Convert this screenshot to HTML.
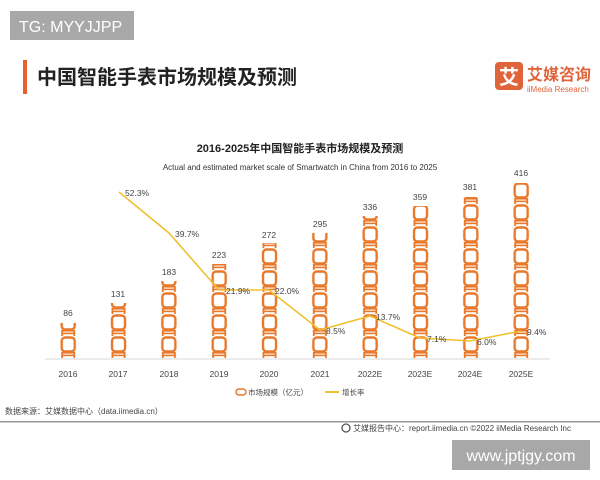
<!DOCTYPE html>
<html><head><meta charset="utf-8"><style>
body{margin:0;background:#fff;}
svg{display:block;font-family:"Liberation Sans","Noto Sans CJK SC",sans-serif;}
</style></head><body>
<svg width="600" height="480" viewBox="0 0 600 480">
<defs>
<pattern id="ch" patternUnits="userSpaceOnUse" x="58.2" y="358" width="50.33" height="22">
<rect x="3.5" y="1.5" width="13" height="14" rx="3.5" fill="none" stroke="#e8782a" stroke-width="2.4"/>
<rect x="4" y="16" width="12" height="1.6" fill="#e8782a"/>
<rect x="4" y="18.6" width="12" height="1.6" fill="#e8782a"/>
<rect x="3" y="16" width="1.8" height="6" fill="#e8782a"/>
<rect x="15.2" y="16" width="1.8" height="6" fill="#e8782a"/>
</pattern>
</defs>
<rect x="10" y="11" width="124" height="29" fill="#a8a8a8"/>
<text x="19" y="32" font-size="16" fill="#fff">TG: MYYJJPP</text>
<rect x="23" y="60" width="4" height="34" fill="#e8602c"/>
<text x="37" y="84" font-size="20" fill="#222" font-weight="bold">中国智能手表市场规模及预测</text>
<rect x="495" y="62" width="28" height="28" rx="4" fill="#e0643a"/>
<text x="509" y="84" font-size="20" fill="#fff" text-anchor="middle" font-weight="bold">艾</text>
<text x="527" y="80" font-size="16" fill="#e0643a" font-weight="bold">艾媒咨询</text>
<text x="527" y="92" font-size="8" fill="#e0643a">iiMedia Research</text>
<text x="300" y="152" font-size="11" fill="#222" text-anchor="middle" font-weight="bold">2016-2025年中国智能手表市场规模及预测</text>
<text x="300" y="170" font-size="8" fill="#333" text-anchor="middle">Actual and estimated market scale of Smartwatch in China from 2016 to 2025</text>
<line x1="45" y1="359" x2="550" y2="359" stroke="#d8d8d8" stroke-width="1"/>
<g fill="url(#ch)">
<rect x="58" y="323" width="21" height="35"/>
<rect x="108" y="303" width="21" height="55"/>
<rect x="158" y="281" width="21" height="77"/>
<rect x="209" y="264" width="21" height="94"/>
<rect x="259" y="243" width="21" height="115"/>
<rect x="309" y="233" width="21" height="125"/>
<rect x="360" y="216" width="21" height="142"/>
<rect x="410" y="206" width="21" height="152"/>
<rect x="460" y="197" width="21" height="161"/>
<rect x="511" y="183" width="21" height="175"/>
</g>
<g font-size="8.5" fill="#444" text-anchor="middle">
<text x="68" y="316">86</text><text x="118" y="297">131</text><text x="169" y="275">183</text><text x="219" y="258">223</text><text x="269" y="238">272</text><text x="320" y="227">295</text><text x="370" y="210">336</text><text x="420" y="200">359</text><text x="470" y="190">381</text><text x="521" y="176">416</text>
</g>
<polyline points="119,192 169,233 219,290 269,290 320,330 370,316 420,338 470,341 521,331" fill="none" stroke="#f0c030" stroke-width="1.6"/>
<g font-size="8.5" fill="#444">
<text x="125" y="196">52.3%</text><text x="175" y="237">39.7%</text><text x="226" y="294">21.9%</text><text x="275" y="294">22.0%</text><text x="326" y="334">8.5%</text><text x="376" y="320">13.7%</text><text x="427" y="342">7.1%</text><text x="477" y="345">6.0%</text><text x="527" y="335">9.4%</text>
</g>
<g font-size="8.5" fill="#444" text-anchor="middle">
<text x="68" y="377">2016</text><text x="118" y="377">2017</text><text x="169" y="377">2018</text><text x="219" y="377">2019</text><text x="269" y="377">2020</text><text x="320" y="377">2021</text><text x="370" y="377">2022E</text><text x="420" y="377">2023E</text><text x="470" y="377">2024E</text><text x="521" y="377">2025E</text>
</g>
<rect x="236" y="389" width="10" height="6" rx="3" fill="none" stroke="#e8782a" stroke-width="1.5"/>
<text x="248" y="395" font-size="7.5" fill="#444">市场规模（亿元）</text>
<line x1="325" y1="392" x2="339" y2="392" stroke="#f0c030" stroke-width="2"/>
<text x="342" y="395" font-size="7.5" fill="#444">增长率</text>
<text x="5" y="414" font-size="8" fill="#444">数据来源：艾媒数据中心（data.iimedia.cn）</text>
<rect x="0" y="421" width="600" height="1.5" fill="#999"/>
<circle cx="346" cy="428" r="4" fill="none" stroke="#555" stroke-width="1.3"/>
<text x="353" y="431" font-size="8" fill="#444">艾媒报告中心：report.iimedia.cn   ©2022 iiMedia Research Inc</text>
<rect x="452" y="440" width="138" height="30" fill="#a8a8a8"/>
<text x="521" y="461" font-size="16" fill="#fff" text-anchor="middle">www.jptjgy.com</text>
</svg>
</body></html>
